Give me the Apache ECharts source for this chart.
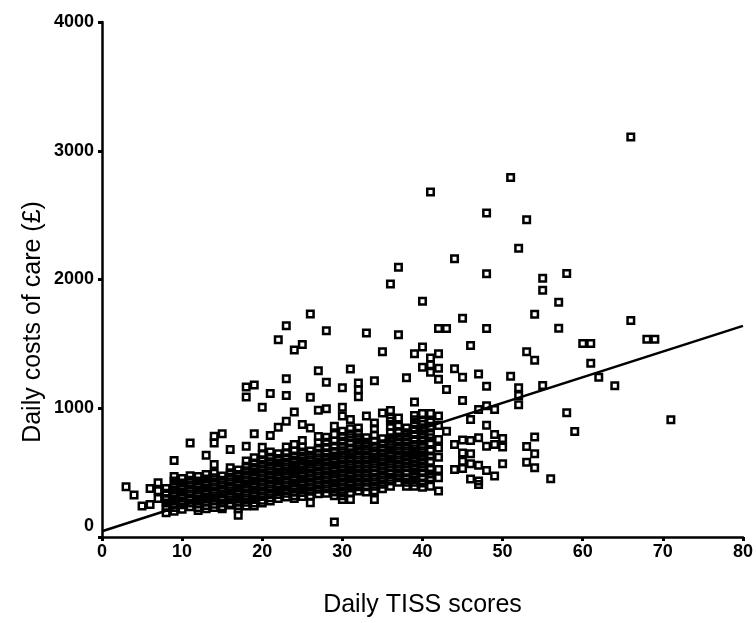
<!DOCTYPE html>
<html>
<head>
<meta charset="utf-8">
<script src="https://cdn.jsdelivr.net/npm/echarts@6/dist/echarts.min.js"></script>
<style>html,body{margin:0;padding:0;background:#fff;}#c{width:756px;height:623px;}</style>
</head>
<body>
<div id="c"></div>
<script>
// Daily TISS score (integer columns) and the daily costs (£) read for each column
const tissScores = [3,4,5,6,7,8,9,10,11,12,13,14,15,16,17,18,19,20,21,22,23,24,25,26,27,28,29,30,31,32,33,34,35,36,37,38,39,40,41,42,43,44,45,46,47,48,49,50,51,52,53,54,55,56,57,58,59,60,61,62,64,66,68,69,71];
const dailyCosts = [
  [390],
  [326],
  [240],
  [253, 377],
  [421, 360, 300],
  [377, 340, 300, 265, 230, 188],
  [594, 470, 435, 400, 365, 330, 295, 260, 230, 200],
  [455, 420, 385, 350, 315, 280, 250, 215],
  [731, 475, 440, 405, 370, 335, 300, 265, 235],
  [470, 435, 400, 365, 330, 295, 260, 230, 205],
  [635, 485, 450, 415, 380, 345, 310, 275, 245, 220],
  [783, 731, 563, 495, 460, 425, 390, 355, 320, 285, 255, 230],
  [801, 473, 440, 405, 370, 335, 300, 265, 235, 220],
  [680, 537, 500, 465, 430, 395, 360, 325, 290, 260, 248],
  [520, 485, 450, 415, 380, 345, 310, 275, 245, 220, 168],
  [1165, 1087, 705, 590, 550, 515, 480, 445, 410, 375, 340, 305, 270, 240],
  [1180, 801, 615, 575, 540, 505, 470, 435, 400, 365, 330, 295, 265, 240],
  [1008, 697, 640, 600, 565, 530, 495, 460, 425, 390, 355, 320, 285, 265],
  [1114, 788, 660, 620, 585, 550, 515, 480, 445, 410, 375, 340, 305, 280],
  [1532, 852, 646, 610, 575, 540, 505, 470, 435, 400, 365, 330, 300],
  [1640, 1230, 1100, 899, 700, 655, 615, 580, 545, 510, 475, 440, 405, 370, 340, 310],
  [1452, 971, 718, 667, 630, 595, 560, 525, 490, 455, 420, 385, 350, 320, 300],
  [1496, 873, 749, 700, 660, 625, 590, 555, 520, 485, 450, 415, 380, 345, 315],
  [1733, 1085, 847, 667, 635, 600, 565, 530, 495, 460, 425, 390, 355, 320, 266],
  [1292, 984, 780, 730, 690, 650, 615, 580, 545, 510, 475, 440, 405, 370, 335],
  [1602, 1201, 997, 775, 735, 695, 655, 620, 585, 550, 515, 480, 445, 410, 375, 340],
  [860, 796, 745, 705, 665, 630, 595, 560, 525, 490, 455, 420, 385, 350, 320, 116],
  [1160, 1008, 940, 822, 780, 744, 705, 670, 635, 600, 565, 530, 495, 460, 425, 390, 355, 320, 292],
  [1305, 912, 840, 800, 770, 730, 692, 655, 620, 589, 555, 520, 485, 450, 415, 380, 345, 292],
  [1196, 1144, 1090, 847, 805, 770, 735, 705, 670, 635, 600, 565, 530, 495, 460, 425, 390, 357],
  [1584, 940, 770, 735, 705, 670, 635, 600, 565, 530, 495, 460, 425, 390, 350],
  [1214, 886, 840, 790, 744, 705, 670, 641, 605, 570, 537, 500, 465, 430, 395, 360, 292],
  [1439, 964, 764, 725, 690, 653, 620, 585, 550, 515, 480, 445, 410, 375],
  [1966, 982, 925, 899, 860, 810, 770, 744, 710, 675, 640, 605, 570, 537, 500, 465, 434, 395],
  [2095, 1571, 925, 860, 820, 777, 740, 705, 670, 635, 600, 565, 530, 495, 460, 425],
  [1237, 847, 810, 777, 740, 705, 670, 635, 602, 570, 537, 500, 460, 425, 395],
  [1423, 1048, 943, 910, 873, 835, 796, 757, 718, 685, 653, 620, 589, 555, 525, 490, 460, 425, 395],
  [1831, 1475, 1318, 960, 899, 873, 835, 800, 770, 744, 705, 670, 635, 602, 570, 537, 500, 460, 420, 387],
  [2679, 1390, 1338, 1280, 960, 893, 860, 796, 770, 731, 667, 630, 589, 525, 490, 460, 395],
  [1620, 1423, 1310, 1226, 940, 866, 757, 692, 620, 525, 460, 357],
  [1620, 1145, 822],
  [2162, 1307, 718, 525],
  [1700, 1240, 1060, 753, 653, 589, 532],
  [1488, 912, 749, 646, 568, 450],
  [1266, 990, 770, 558, 434, 408],
  [2516, 2044, 1620, 1170, 1020, 868, 705, 517],
  [990, 796, 718, 473],
  [765, 700, 568],
  [2793, 1248],
  [2242, 1160, 1100, 1028],
  [2465, 1439, 703, 581],
  [1731, 1372, 777, 646, 537],
  [2010, 1917, 1176],
  [452],
  [1824, 1622],
  [2046, 966],
  [819],
  [1503],
  [1503, 1349],
  [1240],
  [1175],
  [3106, 1682],
  [1535],
  [1535],
  [910]
];
// Fitted regression line end points
const fitX = [0, 80];
const fitY = [45, 1640];
// Axis ticks
const xTicks = [0, 10, 20, 30, 40, 50, 60, 70, 80];
const yTicks = [0, 1000, 2000, 3000, 4000];
const xTitle = 'Daily TISS scores';
const yTitle = 'Daily costs of care (£)';

const points = [];
tissScores.forEach((x, i) => dailyCosts[i].forEach(y => points.push([x, y])));
const fitLine = fitX.map((x, i) => [x, fitY[i]]);

const FONT = 'Liberation Sans, Arial, sans-serif';
const chart = echarts.init(document.getElementById('c'), null, {renderer: 'canvas'});
const axisCommon = {
  axisLine: {show: true, onZero: false, lineStyle: {color: '#000', width: 2.5}},
  axisTick: {show: true, inside: false, length: 4, lineStyle: {color: '#000', width: 3}},
  splitLine: {show: false},
  axisLabel: {color: '#000', fontFamily: FONT, fontWeight: 'bold', fontSize: 18, formatter: v => String(v)}
};
chart.setOption({
  animation: false,
  backgroundColor: '#fff',
  grid: {left: 102, right: 12, top: 22, bottom: 86, containLabel: false},
  xAxis: Object.assign({}, axisCommon, {
    type: 'value', min: xTicks[0], max: xTicks[xTicks.length - 1], interval: 10,
    name: xTitle, nameLocation: 'middle', nameGap: 56,
    nameTextStyle: {color: '#000', fontFamily: FONT, fontSize: 25},
    axisLabel: Object.assign({}, axisCommon.axisLabel, {margin: 6})
  }),
  yAxis: Object.assign({}, axisCommon, {
    type: 'value', min: yTicks[0], max: yTicks[yTicks.length - 1], interval: 1000,
    axisLabel: Object.assign({}, axisCommon.axisLabel, {
      margin: 8,
      formatter: v => v === 0 ? '{z|0}' : String(v),
      rich: {z: {color: '#000', fontFamily: FONT, fontWeight: 'bold', fontSize: 18, padding: [0, 0, 22, 0]}}
    })
  }),
  graphic: [{
    type: 'text', x: 33, y: 322, rotation: Math.PI / 2,
    style: {text: yTitle, fill: '#000', font: '25px ' + FONT, textAlign: 'center', textVerticalAlign: 'middle'}
  }],
  series: [
    {
      type: 'scatter', data: points, symbol: 'rect', symbolSize: 6.5,
      itemStyle: {color: 'rgba(255,255,255,0)', borderColor: '#000', borderWidth: 2.5, opacity: 1},
      silent: true, z: 2
    },
    {
      type: 'line', data: fitLine, symbol: 'none', lineStyle: {color: '#000', width: 2.5},
      silent: true, z: 3
    }
  ]
});
</script>
</body>
</html>
